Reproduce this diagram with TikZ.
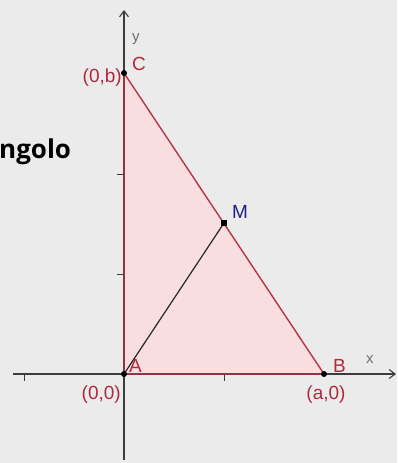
\documentclass[tikz,border=0pt]{standalone}
\usepackage{fontspec}
\setmainfont{Liberation Sans}
\newfontfamily\boldsans{Open Sans}
\usetikzlibrary{arrows.meta}
\definecolor{bg}{HTML}{EBEBEB}
\definecolor{triedge}{HTML}{B8334A}
\definecolor{trifill}{HTML}{F9DEDF}
\definecolor{lblred}{HTML}{B02A3C}
\definecolor{lblblue}{HTML}{1E1E8A}
\definecolor{axisgray}{HTML}{3C3C3C}
\definecolor{axislbl}{HTML}{707070}
\tikzset{
  axis/.style={draw=axisgray, line width=1.1pt},
  tick/.style={draw=axisgray, line width=1pt},
  edge/.style={draw=triedge, line width=1.4pt},
  median/.style={draw=black!85, line width=1.2pt},
  pt/.style={circle, fill=black, inner sep=0pt, minimum size=6pt},
  sqpt/.style={rectangle, fill=black, inner sep=0pt, minimum size=6pt},
  redlbl/.style={text=lblred, font=\fontsize{19}{20}\selectfont, inner sep=0pt},
  axlbl/.style={text=axislbl, font=\fontsize{15}{16}\selectfont, inner sep=0pt},
}
\begin{document}
\begin{tikzpicture}[x=1pt,y=-1pt]
\fill[bg] (0,0) rectangle (397,463);
\useasboundingbox (0,0) rectangle (397,463);
% points
\coordinate (A) at (124,374);
\coordinate (B) at (324,374);
\coordinate (C) at (124,73);
\coordinate (M) at (224,223);
\coordinate (xs) at (13,374);
\coordinate (xe) at (396,374);
\coordinate (ys) at (124,460);
\coordinate (ye) at (124,10);
% triangle fill
\fill[trifill] (A) -- (B) -- (C) -- cycle;
% axes
\draw[axis, -{Straight Barb[length=6pt,width=9pt]}] (xs) -- (xe);
\draw[axis, -{Straight Barb[length=6pt,width=9pt]}] (ys) -- (ye);
% ticks
\foreach \tx in {24,224} \draw[tick] (\tx,374) -- (\tx,381);
\foreach \ty in {174,274} \draw[tick] (124,\ty) -- (117,\ty);
% edges
\draw[edge] (A) -- (B) -- (C) -- cycle;
\draw[median] (A) -- (M);
% point markers
\node[pt] (pA) at (A) {};
\node[pt] (pB) at (B) {};
\node[pt] (pC) at (C) {};
\node[sqpt] (pM) at (M) {};
% labels
\node[redlbl, anchor=base west] (lA) at (129,372) {A};
\node[redlbl, anchor=base west] (lB) at (333,372) {B};
\node[redlbl, anchor=base west] (lC) at (132,70) {C};
\node[text=lblblue, font=\fontsize{19}{20}\selectfont, inner sep=0pt, anchor=base west] (lM) at (232,218) {M};
\node[redlbl, anchor=base east] (l00) at (121,399) {(0,0)};
\node[redlbl, anchor=base] (la0) at (326,399) {(a,0)};
\node[redlbl, anchor=base east] (l0b) at (122,82) {(0,b)};
\node[axlbl, anchor=base west] (lx) at (366,363) {x};
\node[axlbl, anchor=base west] (ly) at (132,41) {y};
% clipped title
\node[font=\boldsans\bfseries\fontsize{26}{28}\selectfont, anchor=base west, inner sep=0pt] (title) at (-1,158) {ngolo};
\end{tikzpicture}
\end{document}
